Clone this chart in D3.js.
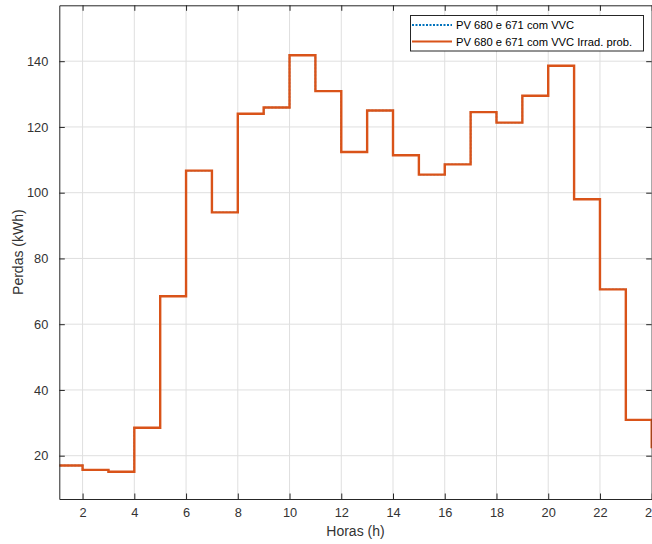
<!DOCTYPE html>
<html>
<head>
<meta charset="utf-8">
<script src="https://cdn.jsdelivr.net/npm/d3@7"></script>
<style>
  body { margin: 0; background: #fff; }
  text { font-family: "Liberation Sans", Arial, Helvetica, sans-serif; }
</style>
</head>
<body>
<script>
// hours 1..24
var hours = [1, 2, 3, 4, 5, 6, 7, 8, 9, 10, 11, 12, 13, 14, 15, 16, 17, 18, 19, 20, 21, 22, 23, 24];
// losses (kWh) - both series overlap in the picture
var lossesVVC = [17.0, 15.7, 15.1, 28.5, 68.5, 106.7, 94.0, 124.0, 125.9, 141.8, 130.9, 112.4,
                 125.0, 111.4, 105.5, 108.6, 124.5, 121.3, 129.5, 138.6, 98.0, 70.6, 30.9, 22.3];
var lossesIrrad = [17.0, 15.7, 15.1, 28.5, 68.5, 106.7, 94.0, 124.0, 125.9, 141.8, 130.9, 112.4,
                   125.0, 111.4, 105.5, 108.6, 124.5, 121.3, 129.5, 138.6, 98.0, 70.6, 30.9, 22.3];
var xTicks = [2, 4, 6, 8, 10, 12, 14, 16, 18, 20, 22, 24];
var yTicks = [20, 40, 60, 80, 100, 120, 140];
var seriesNames = ["PV 680 e 671 com VVC", "PV 680 e 671 com VVC Irrad. prob."];

var width = 652, height = 544;
var margin = { left: 59.3, right: 651.7, top: 5.3, bottom: 499 };
var axisColor = "#262626";

var svg = d3.select("body").append("svg")
    .attr("width", width)
    .attr("height", height);

var x = d3.scaleLinear().domain([1.1, 24]).range([margin.left, margin.right]);
var y = d3.scaleLinear().domain([6.83, 157.0]).range([margin.bottom, margin.top]);

// grid
svg.append("g").selectAll("line")
    .data(xTicks)
    .enter().append("line")
    .attr("x1", function(d) { return x(d); })
    .attr("x2", function(d) { return x(d); })
    .attr("y1", margin.top).attr("y2", margin.bottom)
    .attr("stroke", "#dfdfdf").attr("stroke-width", 1);
svg.append("g").selectAll("line")
    .data(yTicks)
    .enter().append("line")
    .attr("y1", function(d) { return y(d); })
    .attr("y2", function(d) { return y(d); })
    .attr("x1", margin.left).attr("x2", margin.right)
    .attr("stroke", "#dfdfdf").attr("stroke-width", 1);

// clip
svg.append("clipPath").attr("id", "plotClip")
    .append("rect")
    .attr("x", margin.left).attr("y", margin.top)
    .attr("width", margin.right - margin.left + 2).attr("height", margin.bottom - margin.top);

var stairs = d3.line()
    .x(function(d) { return x(d[0]); })
    .y(function(d) { return y(d[1]); })
    .curve(d3.curveStepAfter);

var plot = svg.append("g").attr("clip-path", "url(#plotClip)");

// blue dotted series sits exactly under the orange one
plot.append("path")
    .datum(hours.map(function(h, i) { return [h, lossesVVC[i]]; }))
    .attr("d", stairs)
    .attr("fill", "none")
    .attr("stroke", "#0072BD")
    .attr("stroke-width", 1.4)
    .attr("stroke-dasharray", "2,1.5");

plot.append("path")
    .datum(hours.map(function(h, i) { return [h, lossesIrrad[i]]; }))
    .attr("d", stairs)
    .attr("fill", "none")
    .attr("stroke", "#D95319")
    .attr("stroke-width", 2.4);

// axes (box with inward ticks)
var tickLen = 5.5;
var xBottom = svg.append("g")
    .attr("transform", "translate(0," + margin.bottom + ")")
    .call(d3.axisBottom(x).tickValues(xTicks).tickSizeInner(-tickLen).tickSizeOuter(0).tickPadding(9));
var xTop = svg.append("g")
    .attr("transform", "translate(0," + margin.top + ")")
    .call(d3.axisTop(x).tickValues(xTicks).tickSizeInner(-tickLen).tickSizeOuter(0).tickFormat(""));
var yLeft = svg.append("g")
    .attr("transform", "translate(" + margin.left + ",0)")
    .call(d3.axisLeft(y).tickValues(yTicks).tickSizeInner(-tickLen).tickSizeOuter(0).tickPadding(11));
var yRight = svg.append("g")
    .attr("transform", "translate(" + margin.right + ",0)")
    .call(d3.axisRight(y).tickValues(yTicks).tickSizeInner(-tickLen).tickSizeOuter(0).tickFormat(""));

[xBottom, xTop, yLeft, yRight].forEach(function(g) {
    g.select(".domain").attr("stroke", axisColor).attr("stroke-width", 1);
    g.selectAll(".tick line").attr("stroke", axisColor).attr("stroke-width", 1);
    g.selectAll(".tick text")
        .attr("fill", "#333")
        .style("font-size", "12.8px")
        .style("font-family", "'Liberation Sans', Arial, sans-serif");
});

// axis labels
svg.append("text")
    .attr("x", (margin.left + margin.right) / 2)
    .attr("y", 536)
    .attr("text-anchor", "middle")
    .attr("fill", "#333")
    .style("font-size", "14px")
    .text("Horas (h)");

svg.append("text")
    .attr("transform", "translate(23," + ((margin.top + margin.bottom) / 2) + ") rotate(-90)")
    .attr("text-anchor", "middle")
    .attr("fill", "#333")
    .style("font-size", "14px")
    .text("Perdas (kWh)");

// legend
var legend = svg.append("g");
legend.append("rect")
    .attr("x", 410.5).attr("y", 15.5)
    .attr("width", 233).attr("height", 35.5)
    .attr("fill", "#fff")
    .attr("stroke", axisColor)
    .attr("stroke-width", 1);

var legendStyles = [
    { color: "#0072BD", dash: "2,1.5" },
    { color: "#D95319", dash: null }
];
seriesNames.forEach(function(name, i) {
    var cy = 25 + i * 16.5;
    legend.append("line")
        .attr("x1", 412).attr("x2", 452)
        .attr("y1", cy).attr("y2", cy)
        .attr("stroke", legendStyles[i].color)
        .attr("stroke-width", 2)
        .attr("stroke-dasharray", legendStyles[i].dash);
    legend.append("text")
        .attr("x", 456)
        .attr("y", cy + 4)
        .attr("fill", "#000")
        .style("font-size", "11.2px")
        .text(name);
});
</script>
</body>
</html>
